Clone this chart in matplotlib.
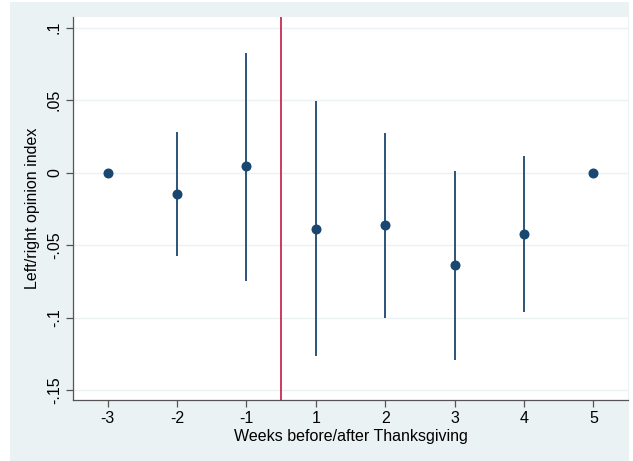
import matplotlib
matplotlib.use("Agg")
import matplotlib.pyplot as plt
import numpy as np

plt.rcParams['font.family'] = ['Liberation Sans', 'DejaVu Sans']

weeks = ["-3", "-2", "-1", "1", "2", "3", "4", "5"]
coef = [0.0, -0.0145, 0.0044, -0.039, -0.0364, -0.0638, -0.0426, 0.0]
ci_low = [np.nan, -0.0578, -0.0749, -0.1264, -0.1004, -0.1291, -0.096, np.nan]
ci_high = [np.nan, 0.028, 0.0829, 0.0492, 0.0276, 0.0014, 0.0113, np.nan]
yticks = [-0.15, -0.1, -0.05, 0, 0.05, 0.1]
ytick_labels = ["-.15", "-.1", "-.05", "0", ".05", ".1"]

bg = "#eaf2f3"
navy = "#1a476f"

fig = plt.figure(figsize=(6.33, 4.61), dpi=100)
fig.patch.set_facecolor("white")
# Stata-style outer background panel
fig.patches.append(plt.Rectangle((10/633, 0.0), (629-10)/633, (460-1)/461,
                                 transform=fig.transFigure, facecolor=bg,
                                 edgecolor="none", zorder=-10))

ax = fig.add_axes([73/633, 1 - 400/461, (628-73)/633, (400-17)/461])
ax.set_facecolor("white")

x = np.arange(len(weeks))
for xi, lo, hi in zip(x, ci_low, ci_high):
    if not np.isnan(lo):
        ax.vlines(xi, lo, hi, color=navy, linewidth=1.3, zorder=3)
ax.plot(x, coef, 'o', color=navy, markersize=6.2, zorder=4)
ax.axvline(2.5, color="#c10534", linewidth=1.1, zorder=2)

ax.set_xlim(-0.5, 7.5)
ax.set_ylim(-0.1569, 0.1074)
ax.set_xticks(x)
ax.set_xticklabels(weeks)
ax.set_yticks(yticks)
ax.set_yticklabels(ytick_labels, rotation=90, va="center")
ax.grid(axis="y", color=bg, linewidth=1.0, zorder=0)
ax.set_axisbelow(True)

for s in ["top", "right"]:
    ax.spines[s].set_visible(False)
for s in ["left", "bottom"]:
    ax.spines[s].set_color("#555555")
    ax.spines[s].set_linewidth(0.9)
ax.tick_params(direction="out", length=5, width=0.9, color="#555555",
               labelsize=11.5, labelcolor="black", pad=3)

ax.set_xlabel("Weeks before/after Thanksgiving", fontsize=11.5, labelpad=2)
ax.set_ylabel("Left/right opinion index", fontsize=11.5, labelpad=5)

fig.savefig("out.png", dpi=100, facecolor=fig.get_facecolor())
